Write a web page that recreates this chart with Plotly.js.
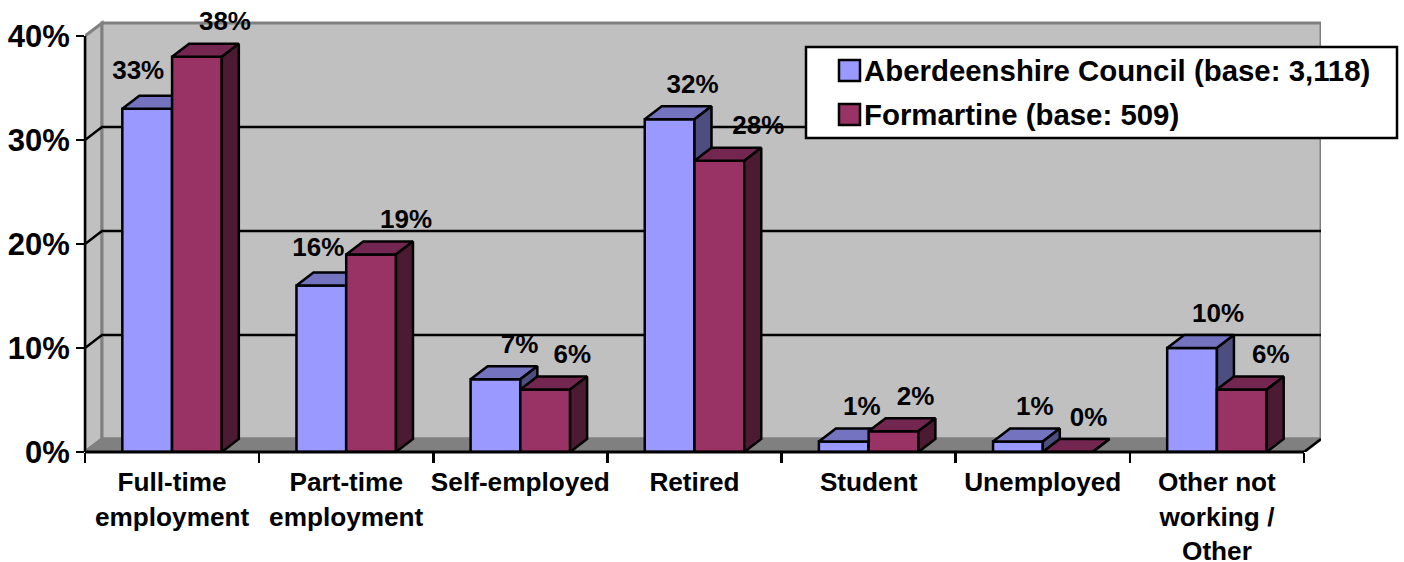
<!DOCTYPE html>
<html><head><meta charset="utf-8">
<script src="https://cdn.plot.ly/plotly-3.0.1.min.js"></script>
<style>html,body{margin:0;padding:0;background:#fff}#c{width:1404px;height:562px}</style>
</head><body><div id="c"></div>
<script>
var categories = ['Full-time<br>employment','Part-time<br>employment','Self-employed','Retired','Student','Unemployed','Other not<br>working /<br>Other'];
var councilName = 'Aberdeenshire Council (base: 3,118)';
var formartineName = 'Formartine (base: 509)';
var councilValues = [33,16,7,32,1,1,10];
var formartineValues = [38,19,6,28,2,0,6];
var yTicks = [0,10,20,30,40];
var councilNudge = [-9,-3,24,23,18,17,26];
var formartineNudge = [28,35,27,39,22,21,29];
var councilRaise = [36,36,33,33,33,33,33];
var formartineRaise = [33,33,33,33,33,33,33];

var W=1404,H=562,L=85,T=4,WALLTOP=23,BOT=452,CATW=(1304-85)/7,UNIT=10.4,DXP=17,DYP=13;
var R=L+7*CATW+DXP;
var dx=DXP/CATW, dy=DYP/UNIT, bw=0.2857, n=categories.length;
var xMin=-0.5,xMax=n-0.5+dx,yMax=(BOT-T)/UNIT,wallTop=(BOT-WALLTOP)/UNIT;
var font='"Liberation Sans", Arial, sans-serif';
var CATS=26.2,TICKS=31,LABS=26,LEGS=29.4;
var INK=2.5;

function faces(vals,x0){
  var top={x:[],y:[]},side={x:[],y:[]};
  vals.forEach(function(v,i){
    var a=i+x0,b=a+bw;
    top.x.push(a,b,b+dx,a+dx,a,null); top.y.push(v,v,v+dy,v+dy,v,null);
    side.x.push(b,b+dx,b+dx,b,b,null); side.y.push(0,dy,v+dy,v,0,null);
  });
  return {top:top,side:side};
}
function poly(f,color,xa,ya){
  return {type:'scatter',mode:'lines',x:f.x,y:f.y,fill:'toself',fillcolor:color,
    line:{color:'#000',width:INK},xaxis:xa,yaxis:ya,hoverinfo:'skip',showlegend:false};
}
function bar(name,vals,off,color,xa,ya){
  return {type:'bar',name:name,x:vals.map(function(_,i){return i;}),y:vals,width:bw,offset:off,
    marker:{color:color,line:{color:'#000',width:INK}},xaxis:xa,yaxis:ya,showlegend:false};
}
function labels(vals,nudge,raise,off,xa,ya){
  return {type:'scatter',mode:'text',cliponaxis:false,
    x:vals.map(function(_,i){return i+off+bw/2+nudge[i]/CATW;}),
    y:vals.map(function(v,i){return v+raise[i]/UNIT;}),
    text:vals.map(function(v){return v+'%';}),textposition:'middle center',
    textfont:{family:font,size:LABS,color:'#000',weight:700},xaxis:xa,yaxis:ya,hoverinfo:'skip',showlegend:false};
}
var fb=faces(councilValues,-bw), fr=faces(formartineValues,0);
var data=[
  bar(councilName,councilValues,-bw,'#9999FF','x','y'),
  poly(fb.top,'#7373BF','x','y'), poly(fb.side,'#4D4D80','x','y'),
  bar(formartineName,formartineValues,0,'#993366','x2','y2'),
  poly(fr.top,'#732650','x2','y2'), poly(fr.side,'#4D1A33','x2','y2'),
  labels(councilValues,councilNudge,councilRaise,-bw,'x2','y2'),
  labels(formartineValues,formartineNudge,formartineRaise,0,'x2','y2')
];
function px(p){return (p-L)/(R-L);}
function py(p){return (BOT-p)/(BOT-T);}
var xe=n-0.5, shapes=[];
function wall(path,fill){shapes.push({type:'path',path:path,xref:'x',yref:'y',layer:'below',fillcolor:fill,line:{color:'#808080',width:3}});}
wall('M'+xMin+',0L'+(xMin+dx)+','+dy+'L'+(xMin+dx)+','+wallTop+'L'+xMin+','+(wallTop-dy)+'Z','#C0C0C0');
wall('M'+(xMin+dx)+','+dy+'L'+xMax+','+dy+'L'+xMax+','+wallTop+'L'+(xMin+dx)+','+wallTop+'Z','#C0C0C0');
wall('M'+xMin+',0L'+xe+',0L'+xMax+','+dy+'L'+(xMin+dx)+','+dy+'Z','#808080');
yTicks.slice(1,-1).forEach(function(t){
  shapes.push({type:'path',path:'M'+xMin+','+t+'L'+(xMin+dx)+','+(t+dy)+'L'+xMax+','+(t+dy),xref:'x',yref:'y',layer:'below',line:{color:'#000',width:INK}});
});
shapes.push({type:'line',xref:'paper',yref:'y',x0:0,x1:0,y0:0,y1:40,line:{color:'#000',width:INK}});
shapes.push({type:'line',xref:'x',yref:'paper',x0:xMin,x1:xe,y0:0,y1:0,line:{color:'#000',width:3}});
shapes.push({type:'line',xref:'x',yref:'y',x0:xe,x1:xMax,y0:0,y1:dy,line:{color:'#000',width:INK}});
// legend box
shapes.push({type:'rect',xref:'paper',yref:'paper',x0:px(806),x1:px(1397),y0:py(138),y1:py(47),fillcolor:'#fff',line:{color:'#000',width:INK}});
shapes.push({type:'rect',xref:'paper',yref:'paper',x0:px(839),x1:px(860),y0:py(81),y1:py(60),fillcolor:'#9999FF',line:{color:'#000',width:INK}});
shapes.push({type:'rect',xref:'paper',yref:'paper',x0:px(839),x1:px(860),y0:py(125),y1:py(104),fillcolor:'#993366',line:{color:'#000',width:INK}});
var ann=[[councilName,70],[formartineName,114]].map(function(a){
  return {text:'<b>'+a[0]+'</b>',xref:'paper',yref:'paper',x:px(864),y:py(a[1]),xanchor:'left',yanchor:'middle',showarrow:false,xshift:-2,
    font:{family:font,size:LEGS,color:'#000'}};
});
var boundaries=[];for(var i=0;i<=n;i++)boundaries.push(i-0.5);
var layout={
  width:W,height:H,paper_bgcolor:'#fff',plot_bgcolor:'rgba(0,0,0,0)',showlegend:false,
  margin:{l:L,r:W-R,t:T,b:H-BOT,pad:0},
  xaxis:{type:'linear',range:[xMin,xMax],tickmode:'array',tickvals:boundaries,ticktext:boundaries.map(function(){return '';}),
    ticks:'outside',ticklen:10,tickwidth:INK,tickcolor:'#000',showgrid:false,zeroline:false,showline:false},
  xaxis2:{type:'linear',overlaying:'x',side:'bottom',anchor:'y2',range:[xMin,xMax],tickmode:'array',
    tickvals:categories.map(function(_,i){return i;}),ticktext:categories,ticks:'outside',ticklen:7,tickcolor:'rgba(0,0,0,0)',tickwidth:1,
    tickangle:0,showgrid:false,zeroline:false,showline:false,tickfont:{family:font,size:CATS,color:'#000',weight:700}},
  yaxis:{range:[0,yMax],tickmode:'array',tickvals:yTicks,ticktext:yTicks.map(function(t){return t+'%';}),
    ticks:'outside',ticklen:8,tickwidth:INK,tickcolor:'#000',showgrid:false,zeroline:false,showline:false,
    tickfont:{family:font,size:TICKS,color:'#000',weight:700}},
  yaxis2:{range:[0,yMax],overlaying:'y',anchor:'x2',visible:false},
  shapes:shapes,annotations:ann
};
Plotly.newPlot('c',data,layout,{displayModeBar:false,staticPlot:true});
</script></body></html>
